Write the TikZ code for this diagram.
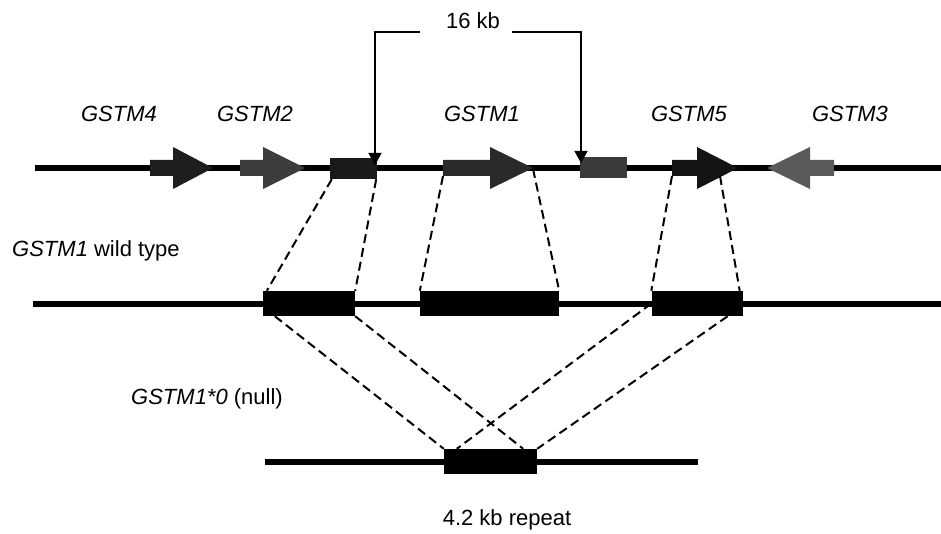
\documentclass[tikz,border=0pt]{standalone}
\usepackage{fontspec}
\setmainfont{Liberation Sans}
\usetikzlibrary{arrows.meta}
\definecolor{cgA}{HTML}{1E1E1E}
\definecolor{cgB}{HTML}{3C3C3C}
\definecolor{cgC}{HTML}{1A1A1A}
\definecolor{cgD}{HTML}{2A2A2A}
\definecolor{cgE}{HTML}{3A3A3A}
\definecolor{cgF}{HTML}{141414}
\definecolor{cgG}{HTML}{5A5A5A}
\newcommand\genearrow[5]{% name, tail x, head base x, tip x, colour
  \fill[#5] (#2,160) -- (#3,160) -- (#3,147) -- (#4,168) -- (#3,189) -- (#3,176) -- (#2,176) -- cycle;
  \coordinate (#1-tail) at (#2,176);
  \coordinate (#1-tip) at (#4,169);
}
\begin{document}
\begin{tikzpicture}[x=1pt,y=-1pt,
  chrom/.style={line width=6pt,black},
  blk/.style={draw=none,fill=black,inner sep=0pt,minimum height=25pt},
  rep/.style={draw=none,inner sep=0pt,minimum height=21pt},
  dsh/.style={line width=2pt,dash pattern=on 9pt off 5pt},
  brk/.style={line width=1.6pt,-{Triangle[width=13pt,length=12pt]}},
  lab/.style={font=\fontsize{22}{26}\selectfont,inner sep=0pt,anchor=base},
  glab/.style={lab,font=\fontsize{22}{26}\selectfont\itshape}]
\useasboundingbox (0,0) rectangle (941,534);
% chromosome lines
\coordinate (t0) at (35,168); \coordinate (t1) at (941,168);
\coordinate (m0) at (33,304); \coordinate (m1) at (941,304);
\coordinate (b0) at (265,462); \coordinate (b1) at (698,462);
\draw[chrom] (t0) -- (t1);
\draw[chrom] (m0) -- (m1);
\draw[chrom] (b0) -- (b1);
% top row genes
\genearrow{g4}{150}{173}{213}{cgA}
\genearrow{g2}{240}{263}{305}{cgB}
\genearrow{g1}{443}{490}{533}{cgD}
\genearrow{g5}{672}{697}{738}{cgF}
\genearrow{g3}{834}{810}{767}{cgG}
\coordinate (g5-r) at (720,176);
\node[rep,fill=cgC,minimum width=47pt] (r1) at (353.5,168.5) {};
\node[rep,fill=cgE,minimum width=47pt] (r2) at (603.5,167.5) {};
% middle row
\node[blk,minimum width=92pt] (A) at (309,303.5) {};
\node[blk,minimum width=139pt] (B) at (489.5,303.5) {};
\node[blk,minimum width=91pt] (C) at (697,303.5) {};
% bottom row
\node[blk,minimum width=93pt] (R) at (490.5,461.5) {};
% dashed connections top -> middle
\draw[dsh] ([xshift=2pt]r1.south west) -- ([xshift=4pt]A.north west);
\draw[dsh] ([xshift=-1pt]r1.south east) -- (A.north east);
\draw[dsh] (g1-tail) -- (B.north west);
\draw[dsh] (g1-tip) -- (B.north east);
\draw[dsh] (g5-tail) -- (C.north west);
\draw[dsh] (g5-r) -- ([xshift=-3pt]C.north east);
% dashed connections middle -> bottom
\draw[dsh] ([xshift=12pt]A.south west) -- (R.north west);
\draw[dsh] (A.south east) -- ([xshift=-14pt]R.north east);
\draw[dsh] (C.west) -- ([xshift=13pt]R.north west);
\draw[dsh] ([xshift=-15pt]C.south east) -- (R.north east);
% 16 kb bracket
\node[lab] (kb) at (473,29) {16 kb};
\coordinate (kbL) at (420,32); \coordinate (kbR) at (512,32);
\coordinate (a1) at (375,165); \coordinate (a2) at (581,163);
\draw[brk] (kbL) -| (a1);
\draw[brk] (kbR) -| (a2);
% gene labels
\node[glab] (l4) at (119,122) {GSTM4};
\node[glab] (l2) at (255,122) {GSTM2};
\node[glab] (l1) at (482,122) {GSTM1};
\node[glab] (l5) at (689,122) {GSTM5};
\node[glab] (l3) at (850,122) {GSTM3};
% row labels
\node[lab,anchor=base west] (wt) at (12,257) {\itshape GSTM1\upshape{} wild type};
\node[lab,anchor=base west] (nl) at (131,404) {\itshape GSTM1*0\upshape{} (null)};
\node[lab] (rp) at (507,525) {4.2 kb repeat};
\end{tikzpicture}
\end{document}
